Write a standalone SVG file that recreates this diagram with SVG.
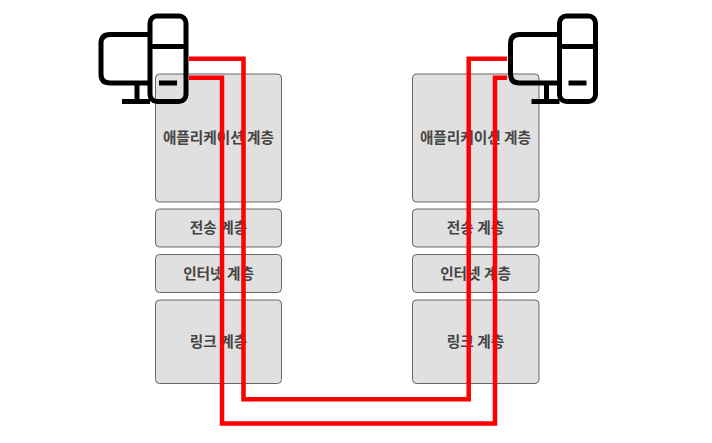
<svg xmlns="http://www.w3.org/2000/svg" width="712" height="443" viewBox="0 0 712 443">
<style>
.box{fill:#e0e0e0;stroke:#666;stroke-width:1}
.lbl{font-family:"Noto Sans CJK KR","Noto Sans",sans-serif;font-size:14.670px;font-weight:700;fill:#444;text-anchor:middle;dominant-baseline:central}
.wire{fill:none;stroke:#f00;stroke-width:4.500}
.ic{fill:none;stroke:#000;stroke-width:5}
</style>
<defs>
<g id="pc">
<path class="ic" d="M150 34.500H110Q101 34.500 101 43.500V74Q101 83 110 83H150M137 83V101.500M122 101.500H150"/>
<rect class="ic" x="150" y="16" width="36" height="85.500" rx="7"/>
<path class="ic" d="M150 46.500H186M159 83H177"/>
</g>
</defs>
<g id="left-app"><rect class="box" x="155.500" y="74" width="126" height="128" rx="4"/><text class="lbl" x="218.500" y="136.500">애플리케이션 계층</text></g>
<g id="left-transport"><rect class="box" x="155.500" y="209" width="126" height="38" rx="4"/><text class="lbl" x="218.500" y="226.500">전송 계층</text></g>
<g id="left-internet"><rect class="box" x="155.500" y="254.500" width="126" height="38" rx="4"/><text class="lbl" x="218.500" y="272">인터넷 계층</text></g>
<g id="left-link"><rect class="box" x="155.500" y="300" width="126" height="83.500" rx="4"/><text class="lbl" x="218.500" y="340">링크 계층</text></g>
<g id="right-app"><rect class="box" x="412.500" y="74" width="126.500" height="128" rx="4"/><text class="lbl" x="475.500" y="136.500">애플리케이션 계층</text></g>
<g id="right-transport"><rect class="box" x="412.500" y="209" width="126.500" height="38" rx="4"/><text class="lbl" x="475.500" y="226.500">전송 계층</text></g>
<g id="right-internet"><rect class="box" x="412.500" y="254.500" width="126.500" height="38" rx="4"/><text class="lbl" x="475.500" y="272">인터넷 계층</text></g>
<g id="right-link"><rect class="box" x="412.500" y="300" width="126.500" height="83.500" rx="4"/><text class="lbl" x="475.500" y="340">링크 계층</text></g>
<g id="connectors">
<path class="wire" d="M189 58.800H243.500V399.300H468.700V58.800H507"/>
<path class="wire" d="M189 77.800H222V423.500H495V77.800H507"/>
</g>
<g id="pc-left"><use href="#pc"/></g>
<g id="pc-right"><use href="#pc" x="409.500"/></g>
</svg>
